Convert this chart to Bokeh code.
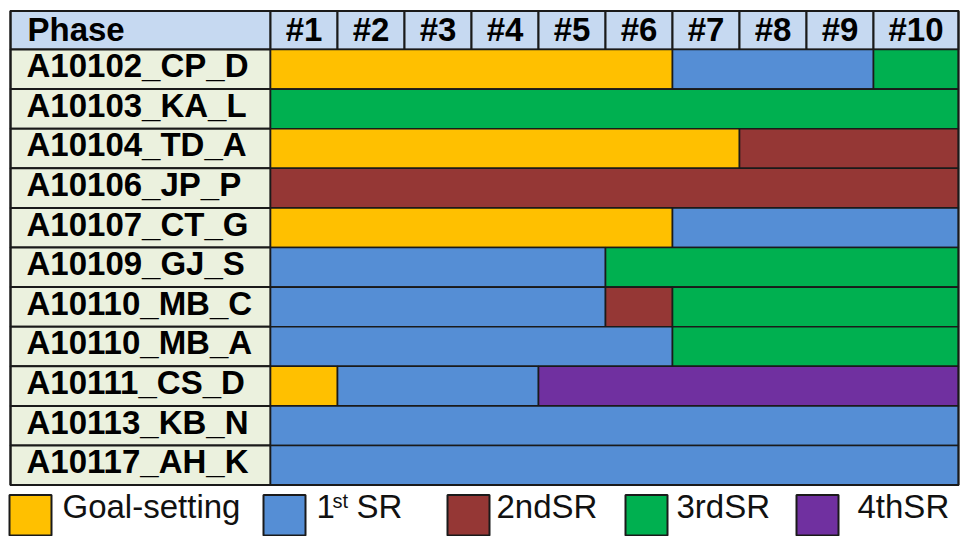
from bokeh.plotting import figure
from bokeh.models import Range1d
from bokeh.core.properties import value
from bokeh.embed import file_html
from bokeh.resources import INLINE

# ---------------- data ----------------
participants = ["A10102_CP_D", "A10103_KA_L", "A10104_TD_A", "A10106_JP_P",
                "A10107_CT_G", "A10109_GJ_S", "A10110_MB_C", "A10110_MB_A",
                "A10111_CS_D", "A10113_KB_N", "A10117_AH_K"]
sessions = ["#1", "#2", "#3", "#4", "#5", "#6", "#7", "#8", "#9", "#10"]
phases = ["Goal-setting", "1st SR", "2ndSR", "3rdSR", "4thSR"]
phase_colors = ["#FFC000", "#558ED5", "#953735", "#00B050", "#7030A0"]

# one entry per coloured segment: participant row, phase, first and last session
seg_row = [0, 0, 0, 1, 2, 2, 3, 4, 4, 5, 5, 6, 6, 6, 7, 7, 8, 8, 8, 9, 10]
seg_phase = ["Goal-setting", "1st SR", "3rdSR",
             "3rdSR",
             "Goal-setting", "2ndSR",
             "2ndSR",
             "Goal-setting", "1st SR",
             "1st SR", "3rdSR",
             "1st SR", "2ndSR", "3rdSR",
             "1st SR", "3rdSR",
             "Goal-setting", "1st SR", "4thSR",
             "1st SR",
             "1st SR"]
seg_first = [1, 7, 10, 1, 1, 8, 1, 1, 7, 1, 6, 1, 6, 7, 1, 7, 1, 2, 5, 1, 1]
seg_last = [6, 9, 10, 10, 7, 10, 10, 6, 10, 5, 10, 5, 6, 10, 6, 10, 1, 4, 10, 10, 10]

# ---------------- layout (pixels of the figure) ----------------
W, H = 960, 536
PX0, COL_W = 270.0, 67.0       # pixel of the label/session boundary, session width
PY0, ROW_H = 49.0, 39.6        # pixel of header bottom, row height


def X(px):
    return (px - PX0) / COL_W


def Y(py):
    return (py - PY0) / ROW_H


TABLE_L, TABLE_R = X(10), X(958)
HEAD_T = Y(10.5)
n_rows = len(participants)
n_sess = len(sessions)

p = figure(width=W, height=H, output_backend="svg", toolbar_location=None,
           x_range=Range1d(X(0), X(W)), y_range=Range1d(Y(H), Y(0)),
           x_axis_location=None, y_axis_location=None, min_border=0)
p.outline_line_color = None
p.xgrid.visible = False
p.ygrid.visible = False
p.background_fill_color = "white"

BORDER = "#1a1a1a"
FONT = "Liberation Sans"
BOLD_SIZE = "33px"

# header row
p.quad(left=[TABLE_L], right=[0], top=[HEAD_T], bottom=[0],
       fill_color="#C6D9F1", line_color=BORDER, line_width=2)
h_left = [i for i in range(n_sess)]
h_right = [i + 1 if i + 1 < n_sess else TABLE_R for i in range(n_sess)]
p.quad(left=h_left, right=h_right, top=[HEAD_T] * n_sess, bottom=[0] * n_sess,
       fill_color="#C6D9F1", line_color=BORDER, line_width=2)
head_mid = Y(28.5)
p.text(x=[X(27)], y=[head_mid], text=["Phase"], text_font=value(FONT),
       text_font_style="bold", text_font_size=BOLD_SIZE,
       text_baseline="middle", text_color="black")
p.text(x=[(l + r) / 2 for l, r in zip(h_left, h_right)], y=[head_mid] * n_sess,
       text=sessions, text_font=value(FONT), text_font_style="bold",
       text_font_size=BOLD_SIZE, text_baseline="middle", text_align="center",
       text_color="black")

# participant label column
rows = list(range(n_rows))
p.quad(left=[TABLE_L] * n_rows, right=[0] * n_rows, top=rows,
       bottom=[r + 1 for r in rows], fill_color="#EBF1DE", line_color=BORDER,
       line_width=2)
p.text(x=[X(26)] * n_rows, y=[r + 0.41 for r in rows], text=participants,
       text_font=value(FONT), text_font_style="bold", text_font_size=BOLD_SIZE,
       text_baseline="middle", text_color="black")

# segments
color_of = dict(zip(phases, phase_colors))
seg_left = [f - 1 for f in seg_first]
seg_right = [l if l < n_sess else TABLE_R for l in seg_last]
p.quad(left=seg_left, right=seg_right, top=seg_row,
       bottom=[r + 1 for r in seg_row],
       fill_color=[color_of[ph] for ph in seg_phase], line_color=BORDER,
       line_width=1.6)

# outer frame of the table
p.quad(left=[TABLE_L], right=[TABLE_R], top=[HEAD_T], bottom=[n_rows],
       fill_color=None, line_color=BORDER, line_width=2)

# legend
sq_left = [9, 263, 447, 625, 796]
sq_w = 42
txt_x = [62, 316, 496, 676, 857]
p.quad(left=[X(a) for a in sq_left], right=[X(a + sq_w) for a in sq_left],
       top=[Y(494.5)] * 5, bottom=[Y(535)] * 5, fill_color=phase_colors,
       line_color=BORDER, line_width=2)
leg_mid = Y(505.5)
plain_labels = [phases[0], phases[2], phases[3], phases[4]]
plain_x = [txt_x[0], txt_x[2], txt_x[3], txt_x[4]]
p.text(x=[X(a) for a in plain_x], y=[leg_mid] * 4, text=plain_labels,
       text_font=value(FONT), text_font_size="33px", text_baseline="middle",
       text_color="#111111")
# "1st SR" with superscript
p.text(x=[X(txt_x[1]), X(txt_x[1] + 40)], y=[leg_mid, leg_mid], text=["1", "SR"],
       text_font=value(FONT), text_font_size="33px", text_baseline="middle",
       text_color="#111111")
p.text(x=[X(txt_x[1] + 16)], y=[Y(500)], text=["st"], text_font=value(FONT),
       text_font_size="20px", text_baseline="middle", text_color="#111111")

open("out.html", "w").write(file_html(p, INLINE))
